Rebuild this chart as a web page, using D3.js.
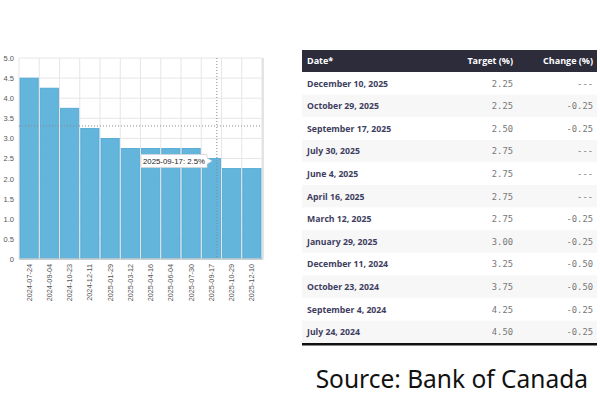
<!DOCTYPE html>
<html>
<head>
<meta charset="utf-8">
<script src="https://cdn.jsdelivr.net/npm/d3@7"></script>
<style>
  body { margin: 0; background: #fff; }
  svg { display: block; }
</style>
</head>
<body>
<svg id="chart" width="600" height="400"></svg>
<script>
var dates = ["2024-07-24", "2024-09-04", "2024-10-23", "2024-12-11", "2025-01-29", "2025-03-12",
             "2025-04-16", "2025-06-04", "2025-07-30", "2025-09-17", "2025-10-29", "2025-12-10"];
var rates = [4.5, 4.25, 3.75, 3.25, 3.0, 2.75, 2.75, 2.75, 2.75, 2.5, 2.25, 2.25];
var yTicks = [0, 0.5, 1.0, 1.5, 2.0, 2.5, 3.0, 3.5, 4.0, 4.5, 5.0];

var tableHeaders = ["Date*", "Target (%)", "Change (%)"];
var tableDates = ["December 10, 2025", "October 29, 2025", "September 17, 2025", "July 30, 2025",
                  "June 4, 2025", "April 16, 2025", "March 12, 2025", "January 29, 2025",
                  "December 11, 2024", "October 23, 2024", "September 4, 2024", "July 24, 2024"];
var targets = ["2.25", "2.25", "2.50", "2.75", "2.75", "2.75", "2.75", "3.00", "3.25", "3.75", "4.25", "4.50"];
var changes = ["---", "-0.25", "-0.25", "---", "---", "---", "-0.25", "-0.25", "-0.50", "-0.50", "-0.25", "-0.25"];

var svg = d3.select("#chart"),
    plotL = 19, plotR = 262, plotT = 58, plotB = 259,
    axisFont = "'Liberation Sans', Arial, sans-serif";

var x = d3.scaleBand().domain(dates).range([plotL, plotR]).paddingInner(0.1).paddingOuter(0.05);
var y = d3.scaleLinear().domain([0, 5]).range([plotB, plotT]);

// grid
var grid = svg.append("g");
grid.selectAll("line.h").data(yTicks).enter().append("line")
    .attr("x1", plotL).attr("x2", plotR)
    .attr("y1", d => y(d)).attr("y2", d => y(d))
    .attr("stroke", "#e6e6e6");
var step = (plotR - plotL) / dates.length;
grid.selectAll("line.v").data(d3.range(dates.length + 1)).enter().append("line")
    .attr("x1", i => plotL + i * step).attr("x2", i => plotL + i * step)
    .attr("y1", plotT).attr("y2", plotB)
    .attr("stroke", "#e6e6e6");

// bars
svg.append("g").selectAll("rect").data(rates).enter().append("rect")
    .attr("x", (d, i) => x(dates[i]))
    .attr("y", d => y(d))
    .attr("width", x.bandwidth())
    .attr("height", d => plotB - y(d))
    .attr("fill", "#63b5dc")
    .attr("stroke", "#4fa6d1")
    .attr("stroke-width", 0.8);

// axes
var yAxis = svg.append("g")
    .attr("transform", "translate(" + plotL + ",0)")
    .call(d3.axisLeft(y).tickValues(yTicks).tickSize(0).tickPadding(5)
        .tickFormat(d => d === 0 ? "0" : d3.format(".1f")(d)));
yAxis.select(".domain").remove();
yAxis.selectAll("text").attr("fill", "#555").attr("font-size", 7.5)
    .attr("font-family", axisFont);

svg.append("line").attr("x1", plotL).attr("x2", plotR + 1).attr("y1", plotB).attr("y2", plotB)
    .attr("stroke", "#ccc").attr("stroke-width", 1.5);
svg.append("line").attr("x1", plotR + 1).attr("x2", plotR + 1).attr("y1", plotT).attr("y2", plotB)
    .attr("stroke", "#ddd").attr("stroke-width", 1.5);

var xAxis = svg.append("g")
    .attr("transform", "translate(0," + plotB + ")")
    .call(d3.axisBottom(x).tickSize(0).tickPadding(0));
xAxis.select(".domain").remove();
xAxis.selectAll("text")
    .attr("transform", "rotate(-90)")
    .attr("text-anchor", "end")
    .attr("x", -5).attr("y", 0).attr("dy", "0.35em")
    .attr("fill", "#555").attr("font-size", 7.3)
    .attr("font-family", axisFont);

// crosshair
svg.append("line").attr("x1", plotL).attr("x2", plotR).attr("y1", y(3.31)).attr("y2", y(3.31))
    .attr("stroke", "#888").attr("stroke-dasharray", "1,2");
var cx = x(dates[9]) + x.bandwidth() * 0.8;
svg.append("line").attr("x1", cx).attr("x2", cx).attr("y1", plotT).attr("y2", plotB)
    .attr("stroke", "#7a8a99").attr("stroke-dasharray", "1,2");

// tooltip
var tip = svg.append("g");
tip.append("path")
    .attr("d", "M141,154.5 H207 V158 L212,161 L207,164 V167.5 H141 Z")
    .attr("fill", "#fff").attr("stroke", "#d5d5d5").attr("stroke-width", 0.8);
tip.append("text").attr("x", 174).attr("y", 163.8).attr("text-anchor", "middle")
    .attr("font-size", 7.8).attr("fill", "#222").attr("font-family", axisFont)
    .text(dates[9] + ": " + rates[9] + "%");

// table
var tx0 = 302, tx1 = 597, hTop = 50, hH = 22, rowH = 22.6;
var colRight = [null, 513, 593];
svg.append("rect").attr("x", tx0).attr("y", hTop).attr("width", tx1 - tx0).attr("height", hH)
    .attr("fill", "#2c2c3b");
svg.selectAll("text.hdr").data(tableHeaders).enter().append("text")
    .attr("x", (d, i) => i === 0 ? 307 : colRight[i])
    .attr("y", hTop + hH / 2 + 3.3)
    .attr("text-anchor", (d, i) => i === 0 ? "start" : "end")
    .attr("font-family", "'Open Sans', sans-serif").attr("font-weight", 700)
    .attr("font-size", 9).attr("fill", "#fff")
    .text(d => d);

var rows = svg.append("g").selectAll("g").data(tableDates).enter().append("g")
    .attr("transform", (d, i) => "translate(0," + (hTop + hH + i * rowH) + ")");
rows.append("rect").attr("x", tx0).attr("width", tx1 - tx0).attr("height", rowH)
    .attr("fill", (d, i) => i % 2 ? "#f7f7f8" : "#fff");
rows.append("text").attr("x", 307).attr("y", rowH / 2 + 3.3)
    .attr("font-family", "'Open Sans', sans-serif").attr("font-weight", 700)
    .attr("font-size", 8.7).attr("fill", "#3e3e5e")
    .text(d => d);
rows.append("text").attr("x", colRight[1]).attr("y", rowH / 2 + 3.3).attr("text-anchor", "end")
    .attr("font-family", "'DejaVu Sans Mono', monospace").attr("font-size", 8.8).attr("fill", "#777")
    .text((d, i) => targets[i]);
rows.append("text").attr("x", colRight[2]).attr("y", rowH / 2 + 3.3).attr("text-anchor", "end")
    .attr("font-family", "'DejaVu Sans Mono', monospace").attr("font-size", 8.8).attr("fill", "#777")
    .text((d, i) => changes[i]);
svg.append("line").attr("x1", tx0).attr("x2", tx1)
    .attr("y1", hTop + hH + tableDates.length * rowH + 1)
    .attr("y2", hTop + hH + tableDates.length * rowH + 1)
    .attr("stroke", "#111").attr("stroke-width", 2.5);

// source
svg.append("text").attr("x", 588).attr("y", 388).attr("text-anchor", "end")
    .attr("font-family", "'Noto Sans', sans-serif").attr("font-size", 24.5).attr("fill", "#111")
    .text("Source: Bank of Canada");
</script>
</body>
</html>
